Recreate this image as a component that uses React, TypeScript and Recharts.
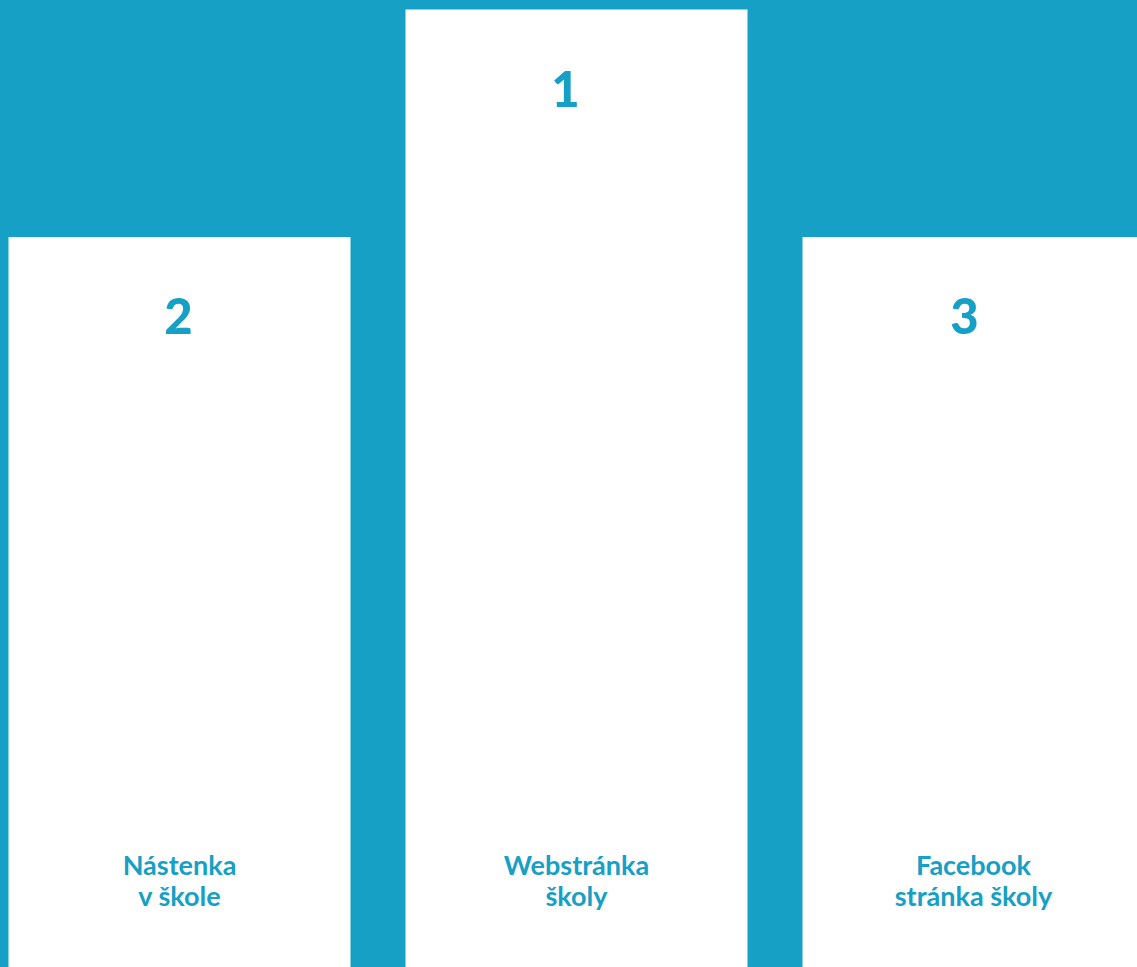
import { BarChart, Bar, XAxis, YAxis, LabelList } from "recharts";

const categories = ["Nástenka\nv škole", "Webstránka\nškoly", "Facebook\nstránka školy"];
const ranks = [2, 1, 3];
const podiumHeights = [76.25, 100, 76.25];

const TEAL = "#17A0C5";
const FONT = "Lato, 'Noto Sans', sans-serif";

const data = categories.map((name, i) => ({ name, rank: ranks[i], height: podiumHeights[i] }));

// small horizontal nudges for the rank digits, as in the original artwork
const rankNudge = [-1, -11, -9];

function RankLabel(props: any) {
  const { x, y, width, index, value } = props;
  return (
    <text
      x={x + width / 2 + (rankNudge[index] ?? 0)}
      y={y + 97}
      textAnchor="middle"
      fill={TEAL}
      fontFamily={FONT}
      fontWeight={900}
      fontSize={49}
    >
      {value}
    </text>
  );
}

function NameLabel(props: any) {
  const { x, y, width, height, value } = props;
  const lines = String(value).split("\n");
  const bottom = y + height;
  return (
    <text
      textAnchor="middle"
      fill={TEAL}
      fontFamily={FONT}
      fontWeight={700}
      fontSize={27}
    >
      {lines.map((line, i) => (
        <tspan key={i} x={x + width / 2} y={bottom - 92 + i * 31}>
          {line}
        </tspan>
      ))}
    </text>
  );
}

export default function App() {
  return (
    <div
      style={{
        position: "fixed",
        top: 0,
        left: 0,
        width: 1137,
        height: 967,
        overflow: "hidden",
        background: TEAL,
      }}
    >
      <div style={{ position: "absolute", left: -19.5, top: 0 }}>
        <BarChart
          width={1191}
          height={967}
          data={data}
          margin={{ top: 0, right: 0, bottom: 0, left: 0 }}
          barCategoryGap={27.5}
        >
          <XAxis dataKey="name" hide />
          <YAxis hide domain={[0, 101]} />
          <Bar dataKey="height" fill="#ffffff" isAnimationActive={false}>
            <LabelList dataKey="rank" content={<RankLabel />} />
            <LabelList dataKey="name" content={<NameLabel />} />
          </Bar>
        </BarChart>
      </div>
    </div>
  );
}
